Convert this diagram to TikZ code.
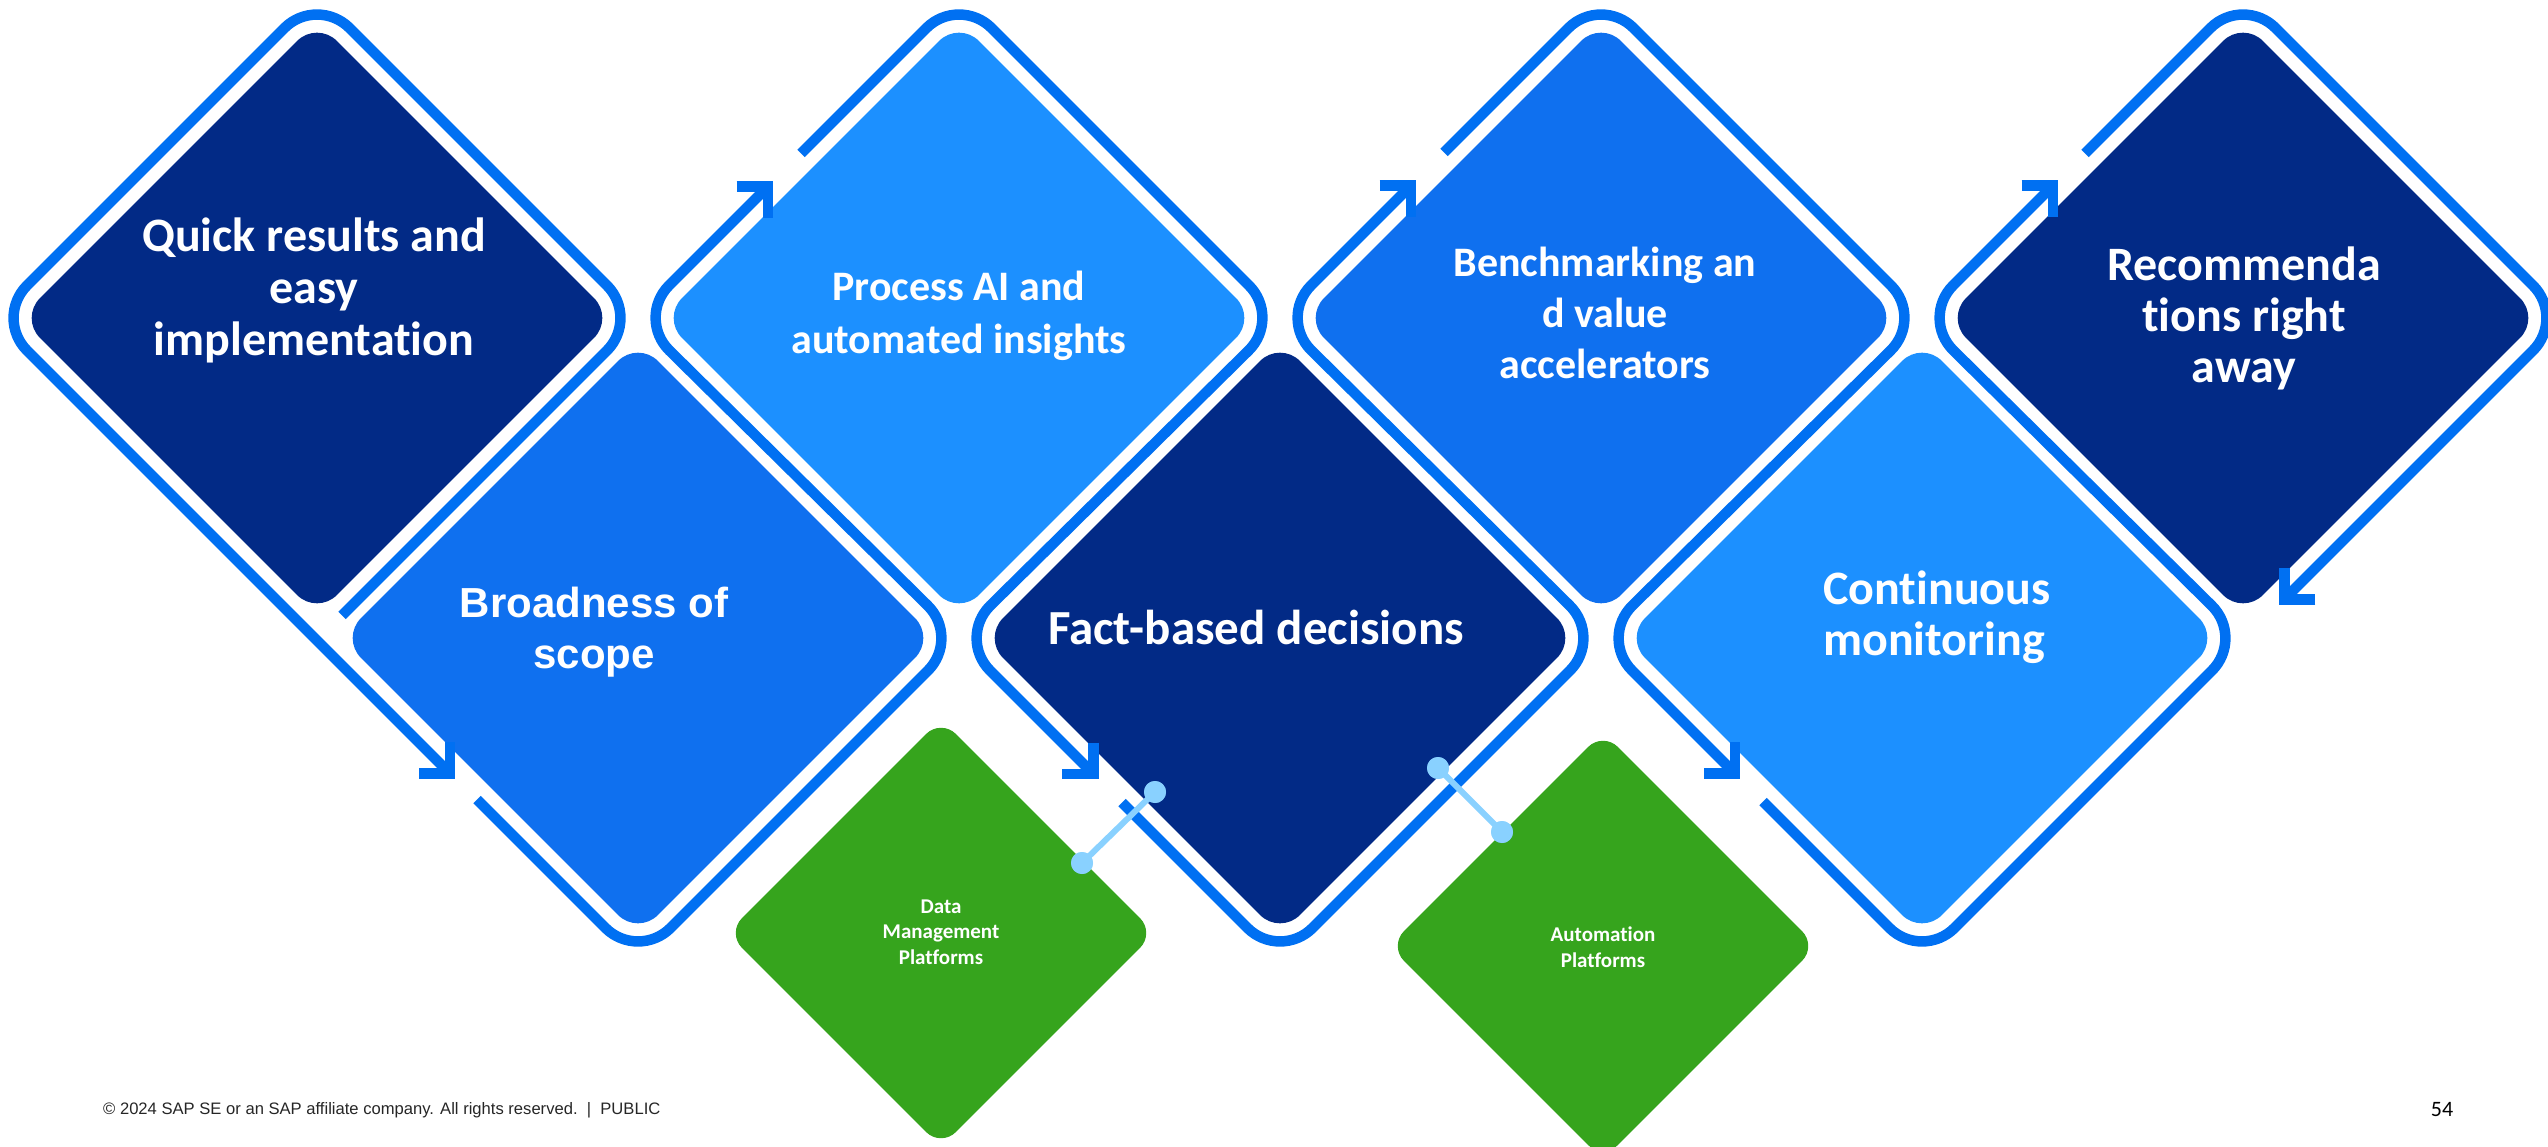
\documentclass[tikz,border=0pt]{standalone}
\usepackage{fontspec}
\setmainfont[Ligatures={NoCommon}]{Carlito}
\newfontfamily\arialf{Liberation Sans}
\usetikzlibrary{arrows.meta,shapes.geometric}
\definecolor{ringblue}{HTML}{0070F2}
\definecolor{navy}{HTML}{022A86}
\definecolor{midblue}{HTML}{0F70EF}
\definecolor{lightblue}{HTML}{1C90FF}
\definecolor{sapgreen}{HTML}{36A41D}
\definecolor{linkblue}{HTML}{89D1FF}
\tikzset{
  bigdia/.style={diamond, aspect=1, minimum width=594pt, minimum height=594pt,
    inner sep=0pt, rounded corners=28pt},
  greendia/.style={diamond, aspect=1, minimum width=428pt, minimum height=428pt,
    inner sep=0pt, rounded corners=21pt, fill=sapgreen},
  ringline/.style={draw=ringblue, line width=10.5pt, rounded corners=46pt},
  flowtip/.style={-{Straight Barb[length=22pt,width=44pt]}},
  bigtxt/.style={text=white, align=center, inner sep=0pt},
  dot/.style={circle, fill=linkblue, minimum size=22pt, inner sep=0pt},
  link/.style={draw=linkblue, line width=6pt}
}
\begin{document}
\begin{tikzpicture}[x=1pt,y=-1pt]
\useasboundingbox (0,0) rectangle (2548,1147);
% main diamonds
\node[bigdia, fill=navy]      (d1) at (317,318) {};
\node[bigdia, fill=midblue]   (d2) at (638,638) {};
\node[bigdia, fill=lightblue] (d3) at (959,318) {};
\node[bigdia, fill=navy]      (d4) at (1280,638) {};
\node[bigdia, fill=midblue]   (d5) at (1601,318) {};
\node[bigdia, fill=lightblue] (d6) at (1922,638) {};
\node[bigdia, fill=navy]      (d7) at (2243,318) {};
% green diamonds
\node[greendia] (g1) at (941,933) {};
\node[greendia] (g2) at (1603,946) {};
% serpentine ring
\draw[ringline, flowtip] (342,615.5) -- (639.5,318) -- (317,-4.5) -- (-5.5,318) -- (455,778.5);
\draw[ringline, flowtip] (477,799.5) -- (638,960.5) -- (960.5,638) -- (636.5,318) -- (773,181.5);
\draw[ringline, flowtip] (801,153.5) -- (959,-4.5) -- (1281.5,318) -- (957.5,638) -- (1098.5,779);
\draw[ringline, flowtip] (1122,802.5) -- (1280,960.5) -- (1602.5,638) -- (1278.5,318) -- (1416,180.5);
\draw[ringline, flowtip] (1444,152.5) -- (1601,-4.5) -- (1923.5,318) -- (1599.5,638) -- (1740,778.5);
\draw[ringline, flowtip] (1763,801.5) -- (1922,960.5) -- (2244.5,638) -- (1920.5,318) -- (2058,180.5);
\draw[ringline, flowtip] (2085,153.5) -- (2243,-4.5) -- (2565.5,318) -- (2279,604.5);
% connectors
\node[dot] (c1a) at (1082,863) {};
\node[dot] (c1b) at (1155,792) {};
\node[dot] (c2a) at (1438,768) {};
\node[dot] (c2b) at (1502,832) {};
\draw[link] (c1a.center) -- (c1b.center);
\draw[link] (c2a.center) -- (c2b.center);
\node[dot] at (c1a) {};
\node[dot] at (c1b) {};
\node[dot] at (c2a) {};
\node[dot] at (c2b) {};
% texts
\node[bigtxt, font=\bfseries\fontsize{48}{52}\selectfont] (t1) at (314,290)
  {Quick results and\\easy\\implementation};
\node[bigtxt, font=\arialf\bfseries\fontsize{42}{51}\selectfont] (t2) at (594,632)
  {Broadness of\\scope};
\node[bigtxt, font=\bfseries\fontsize{42}{53}\selectfont] (t3) at (959,316)
  {Process AI and\\automated insights};
\node[bigtxt, font=\bfseries\fontsize{49}{53}\selectfont] (t4) at (1256,627)
  {Fact-based decisions};
\node[bigtxt, font=\bfseries\fontsize{42}{51}\selectfont] (t5) at (1605,313)
  {Benchmarking an\\d value\\accelerators};
\node[bigtxt, align=left, anchor=west, font=\bfseries\fontsize{48}{51}\selectfont] (t6) at (1823,617)
  {Continuous\\monitoring};
\node[bigtxt, font=\bfseries\fontsize{48}{51}\selectfont] (t7) at (2244,318)
  {Recommenda\\tions right\\away};
\node[bigtxt, font=\bfseries\fontsize{21}{25.5}\selectfont] (tg1) at (941,932)
  {Data\\Management\\Platforms};
\node[bigtxt, font=\bfseries\fontsize{21}{26}\selectfont] (tg2) at (1603,947)
  {Automation\\Platforms};
% footer
\node[anchor=west, inner sep=0pt, text=black!85, font=\arialf\fontsize{16.6}{19}\selectfont] (foot) at (103,1110)
  {© 2024 SAP SE or an SAP affiliate company. All rights reserved.~~|~~PUBLIC};
\node[inner sep=0pt, font=\fontsize{22}{26}\selectfont] (page) at (2442,1110) {54};
\end{tikzpicture}
\end{document}
